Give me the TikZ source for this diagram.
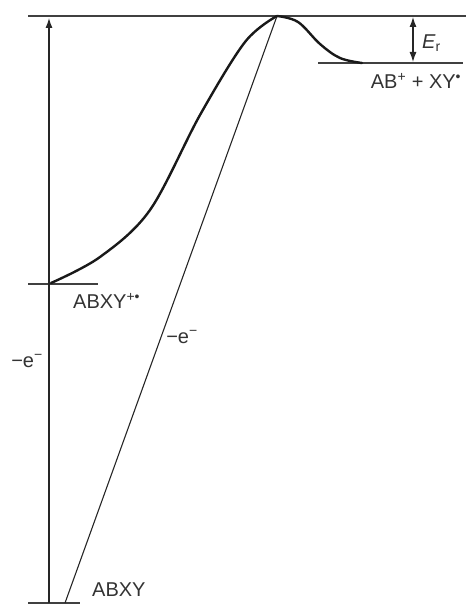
\documentclass[tikz,border=0pt]{standalone}
\usepackage{fontspec}
\setmainfont{Liberation Sans}
\usetikzlibrary{arrows.meta}
\tikzset{
  level line/.style={line width=1.3pt, black!75},
  main curve/.style={line width=2.4pt, black!90, line cap=round},
  transition line/.style={line width=1.1pt, black!85},
  energy arrow/.style={line width=1.2pt, black!85},
  state label/.style={font=\fontsize{20}{22}\selectfont, text=black!80, inner sep=1pt},
  >={Latex[length=10pt, width=7pt]},
}

\begin{document}
\begin{tikzpicture}[x=1pt, y=-1pt]
  \useasboundingbox (0,0) rectangle (466,604);
  % energy levels
  \coordinate (topL) at (28,16);
  \coordinate (topR) at (466,16);
  \coordinate (radL) at (28,284);
  \coordinate (radR) at (98,284);
  \coordinate (gndL) at (28,603);
  \coordinate (gndR) at (80,603);
  \coordinate (prodL) at (318,63);
  \coordinate (prodR) at (463,63);
  \coordinate (peak) at (277,16);
  \coordinate (vertB) at (49,603);
  \coordinate (vertT) at (49,18);
  \coordinate (diagB) at (65,603);
  \coordinate (erT) at (413,17);
  \coordinate (erB) at (413,62);
  \draw[level line] (topL) -- (topR);
  \draw[level line] (radL) -- (radR);
  \draw[level line] (gndL) -- (gndR);
  \draw[level line] (prodL) -- (prodR);
  % ionisation steps
  \draw[energy arrow, ->] (vertB) -- (vertT);
  \draw[transition line] (diagB) -- (peak);
  \draw[energy arrow, <->] (erT) -- (erB);
  % reaction path
  \draw[main curve] plot[smooth, tension=0.55] coordinates {(51,283) (100,257) (150,210) (200,115) (245,42) (277,16)};
  \draw[main curve] plot[smooth, tension=0.6] coordinates {(277,16) (298,22) (320,44) (340,58) (362,63)};
  % labels
  \node[state label, anchor=west] (gnd) at (91,590) {ABXY};
  \node[state label, anchor=west] (rad) at (72,301) {ABXY\textsuperscript{+\textbullet}};
  \node[state label] (prod) at (416,81) {AB\textsuperscript{+} + XY\textsuperscript{\textbullet}};
  \node[state label, anchor=west] (er) at (421,43) {\textit{E}\textsubscript{r}};
  \node[state label] (eleft) at (27,361) {−e\textsuperscript{−}};
  \node[state label] (emid) at (182,337) {−e\textsuperscript{−}};
\end{tikzpicture}
\end{document}
